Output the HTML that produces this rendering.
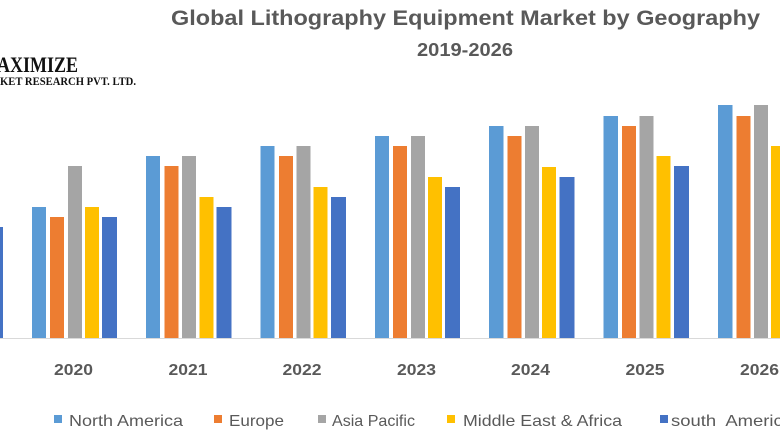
<!DOCTYPE html>
<html>
<head>
<meta charset="utf-8">
<style>
html,body{margin:0;padding:0;background:#fff;}
svg{display:block;}
</style>
</head>
<body>
<svg width="780" height="440" viewBox="0 0 780 440" xmlns="http://www.w3.org/2000/svg">
<rect width="780" height="440" fill="#ffffff"/>
<!-- Title -->
<text x="171" y="25" font-family="Liberation Sans, sans-serif" font-weight="bold" font-size="21" fill="#595959" textLength="589" lengthAdjust="spacingAndGlyphs">Global Lithography Equipment Market by Geography</text>
<text x="417" y="56" font-family="Liberation Sans, sans-serif" font-weight="bold" font-size="18" fill="#595959" textLength="96" lengthAdjust="spacingAndGlyphs">2019-2026</text>
<!-- Logo -->
<text x="-3" y="72" font-family="Liberation Serif, serif" font-weight="bold" font-size="22" fill="#111" textLength="81" lengthAdjust="spacingAndGlyphs">AXIMIZE</text>
<text x="0" y="85" font-family="Liberation Serif, serif" font-weight="bold" font-size="11.5" fill="#111" textLength="136" lengthAdjust="spacingAndGlyphs">KET RESEARCH PVT. LTD.</text>
<!-- axis -->
<line x1="0" y1="338.5" x2="780" y2="338.5" stroke="#d9d9d9" stroke-width="1"/>
<!-- bars -->
<g>
<rect x="-12" y="227" width="15" height="111" fill="#4472c4"/>
<rect x="32" y="207" width="14" height="131" fill="#5b9bd5"/>
<rect x="50" y="217" width="14" height="121" fill="#ed7d31"/>
<rect x="68" y="166" width="14" height="172" fill="#a5a5a5"/>
<rect x="85" y="207" width="14" height="131" fill="#ffc000"/>
<rect x="102" y="217" width="15" height="121" fill="#4472c4"/>
<rect x="146" y="156" width="14" height="182" fill="#5b9bd5"/>
<rect x="164.5" y="166" width="14" height="172" fill="#ed7d31"/>
<rect x="182" y="156" width="14" height="182" fill="#a5a5a5"/>
<rect x="199.5" y="197" width="14" height="141" fill="#ffc000"/>
<rect x="216.5" y="207" width="15" height="131" fill="#4472c4"/>
<rect x="260.5" y="146" width="14" height="192" fill="#5b9bd5"/>
<rect x="279" y="156" width="14" height="182" fill="#ed7d31"/>
<rect x="296.5" y="146" width="14" height="192" fill="#a5a5a5"/>
<rect x="313.5" y="187" width="14" height="151" fill="#ffc000"/>
<rect x="331" y="197" width="15" height="141" fill="#4472c4"/>
<rect x="375" y="136" width="14" height="202" fill="#5b9bd5"/>
<rect x="393" y="146" width="14" height="192" fill="#ed7d31"/>
<rect x="411" y="136" width="14" height="202" fill="#a5a5a5"/>
<rect x="428" y="177" width="14" height="161" fill="#ffc000"/>
<rect x="445" y="187" width="15" height="151" fill="#4472c4"/>
<rect x="489" y="126" width="14.5" height="212" fill="#5b9bd5"/>
<rect x="507.5" y="136" width="14" height="202" fill="#ed7d31"/>
<rect x="525" y="126" width="14" height="212" fill="#a5a5a5"/>
<rect x="542" y="167" width="14" height="171" fill="#ffc000"/>
<rect x="559.5" y="177" width="15" height="161" fill="#4472c4"/>
<rect x="603.5" y="116" width="14.5" height="222" fill="#5b9bd5"/>
<rect x="622" y="126" width="14" height="212" fill="#ed7d31"/>
<rect x="639.5" y="116" width="14" height="222" fill="#a5a5a5"/>
<rect x="656.5" y="156" width="14" height="182" fill="#ffc000"/>
<rect x="674" y="166" width="15" height="172" fill="#4472c4"/>
<rect x="718" y="105" width="14.5" height="233" fill="#5b9bd5"/>
<rect x="736.5" y="116" width="14" height="222" fill="#ed7d31"/>
<rect x="754" y="105" width="14" height="233" fill="#a5a5a5"/>
<rect x="771" y="146" width="14" height="192" fill="#ffc000"/>
</g>
<!-- year labels -->
<g font-family="Liberation Sans, sans-serif" font-weight="bold" font-size="16" fill="#595959">
<text x="54" y="375" textLength="39" lengthAdjust="spacingAndGlyphs">2020</text>
<text x="168.5" y="375" textLength="39" lengthAdjust="spacingAndGlyphs">2021</text>
<text x="282.5" y="375" textLength="39" lengthAdjust="spacingAndGlyphs">2022</text>
<text x="397" y="375" textLength="39" lengthAdjust="spacingAndGlyphs">2023</text>
<text x="511" y="375" textLength="39" lengthAdjust="spacingAndGlyphs">2024</text>
<text x="625.5" y="375" textLength="39" lengthAdjust="spacingAndGlyphs">2025</text>
<text x="740" y="375" textLength="39" lengthAdjust="spacingAndGlyphs">2026</text>
</g>
<!-- legend -->
<rect x="54" y="415" width="8" height="8" fill="#5b9bd5"/>
<rect x="214" y="415" width="8" height="8" fill="#ed7d31"/>
<rect x="318" y="415" width="8" height="8" fill="#a5a5a5"/>
<rect x="447" y="415" width="8" height="8" fill="#ffc000"/>
<rect x="660" y="415" width="8" height="8" fill="#4472c4"/>
<g font-family="Liberation Sans, sans-serif" font-size="16" fill="#595959">
<text x="69" y="426" textLength="114" lengthAdjust="spacingAndGlyphs">North America</text>
<text x="229" y="426" textLength="55" lengthAdjust="spacingAndGlyphs">Europe</text>
<text x="332" y="426" textLength="83" lengthAdjust="spacingAndGlyphs">Asia Pacific</text>
<text x="463" y="426" textLength="159" lengthAdjust="spacingAndGlyphs">Middle East &amp; Africa</text>
<text x="671" y="426" style="white-space:pre" textLength="122" lengthAdjust="spacingAndGlyphs">south  America</text>
</g>
</svg>
</body>
</html>
